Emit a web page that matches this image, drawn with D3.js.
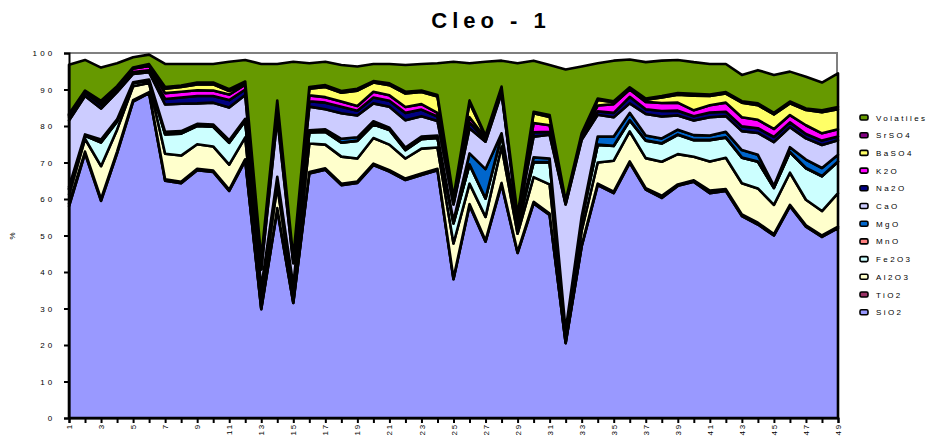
<!DOCTYPE html>
<html>
<head>
<meta charset="utf-8">
<script src="https://cdn.jsdelivr.net/npm/d3@7"></script>
<style>
  body { margin: 0; background: #fff; }
  svg { display: block; }
  text { font-family: "Liberation Sans", Arial, sans-serif; fill: #000; }
</style>
</head>
<body>
<svg id="chart" width="929" height="436"></svg>
<script>
// Sample numbers along the well section
const samples = [1,2,3,4,5,6,7,8,9,10,11,12,13,14,15,16,17,18,19,20,21,22,23,24,25,
                 26,27,28,29,30,31,32,33,34,35,36,37,38,39,40,41,42,43,44,45,46,47,48,49];

// Composition of each sample, weight %
const sio2 = [58,72.5,59.5,72.5,86.7,89,65,64.3,67.9,67.4,62.2,70.5,29.8,57,31.5,67,68,63.8,64.4,69.3,67.5,65.2,66.6,67.9,38,
              58.2,48.3,64,45.2,58.8,55.6,20.5,47,63.8,61.6,69.9,62.6,60.3,63.6,64.7,61.6,62.2,55.3,53,50,58,52.4,49.6,52];
const tio2 = [0.7,0.5,0.5,0.5,0.4,0.3,0.4,0.4,0.4,0.4,0.4,0.4,0.3,0.5,0.3,0.4,0.4,0.4,0.4,0.4,0.4,0.4,0.4,0.4,0.3,
              0.4,0.3,0.4,0.3,0.4,0.4,0.2,0.3,0.4,0.4,0.4,0.4,0.6,0.4,0.4,0.7,0.5,0.5,0.5,0.4,0.4,0.4,0.4,0.4];
const al2o3 = [2.5,3.5,9,6,3.8,2.5,7,7.2,6.7,6.6,6.8,6,3,6,2.5,7.8,6.5,7.4,6.3,7,7,5.5,6.8,5.8,9.5,
               5.6,6.5,10,5,6.8,8,2,4,5.8,8.5,8.2,8.2,9.3,8.3,6.5,8,8.6,8.5,9.4,8,8.8,7,6.7,9.2];
const fe2o3 = [1.5,0.8,6.5,2.2,0.8,0.7,5.3,6,5,5.4,6,4.5,2,2,1.5,3,3.5,3.8,4.8,3.7,4,2.3,2.6,2.6,5.5,
               5.2,5,3,2,4,6,1,3,4.8,4,3,4.8,5,5.3,4.5,5.8,5.5,7,7.3,4.6,5.6,8.6,9.5,8.6];
const mno = [0.1,0.1,0.1,0.1,0.05,0.05,0.1,0.1,0.1,0.1,0.1,0.1,0.1,0.1,0.1,0.1,0.1,0.1,0.1,0.1,0.1,0.1,0.1,0.1,0.1,
             0.1,0.1,0.1,0.1,0.1,0.1,0,0.1,0.1,0.1,0.1,0.1,0.1,0.1,0.1,0.1,0.1,0.1,0.1,0.1,0.1,0.1,0.1,0.1];
const mgo = [0.5,0.3,0.7,0.5,0.2,0.2,0.6,0.6,0.5,0.5,0.6,0.5,0.5,0.5,0.5,0.5,0.6,1,0.9,0.8,0.5,0.6,0.6,0.6,0.6,
             3,8,0.5,0.5,1.3,1,0.3,0.8,2.2,2.5,2,1.3,1.3,1.3,1.3,1.2,1.5,2,1.8,0.5,1.3,2.3,2.2,1.8];
const cao = [18.2,10.5,8.5,7.5,2.3,2,7.5,7.5,5.6,6,9,6.5,5,16,6,6.5,5.5,7,6,4.9,5.8,7.5,5.6,4,4.5,
             6.9,7.5,11,1.5,5.7,6.5,34.5,21,6,5.3,2.6,5.9,6,3.9,4,5,4.3,5.2,6,12,5.5,5.8,6.3,4];
const na2o = [1,1,1,0.8,0.5,0.5,1.5,1.7,2,1.8,2,1.5,1.5,1.5,0.8,1.5,1.8,1.8,1.3,1.6,1.6,2,1.8,1.2,0.5,
              1.6,0.6,0.5,0.3,1.2,0.8,0.3,0.8,0.9,1.2,1.8,1.3,1.5,1.3,1.2,1.3,1.2,1.3,1.3,1.4,1.3,1.2,1.2,1];
const k2o = [0.5,0.3,0.5,0.5,1,1.2,1.6,1.6,1.6,1.5,1.5,1.3,1,1.5,0.5,1.6,1.5,1.4,1.3,1.6,1.5,1.6,1.5,1,0.4,
             1.4,0.4,0.5,0.3,2.5,1.8,0.3,0.4,1.6,2.4,2,2,2.2,2.2,1.6,2,2.5,2.5,2.3,2.2,2,2.4,2,2];
const baso4 = [0,0,0,0,0,0,1.2,1.3,1.6,1.7,1,0.3,0,1.4,0,1.8,2.8,2.4,4.2,2.5,2.8,3.7,3.3,4.5,0.8,
               4,0.4,0.5,0.2,2.7,2.3,0.2,0.3,1.5,0.5,0.2,0.6,1.5,2.2,4,2.5,2.5,4,4,4,3.2,4.2,5.8,5.5];
const srso4 = [0.3,0.2,0.6,0.3,0.3,0.5,0.5,0.4,0.5,0.5,0.5,0.6,0.5,0.5,0.2,0.5,0.5,0.5,0.5,0.4,0.5,0.5,0.4,0.4,0.2,
               0.6,0.3,0.3,0.2,0.4,0.5,0.2,0.3,0.4,0.3,0.4,0.3,0.4,0.4,0.5,0.4,0.4,0.4,0.5,0.4,0.5,0.4,0.5,0.6];
const volatiles = [13.5,8.4,9.1,6.3,2.8,2.6,6.3,5.9,5.1,5.1,7.5,5.9,53.3,10,53.7,6.5,6.4,7.1,6.1,4.7,5.3,7.3,7.3,8.7,37.2,
                   10.2,20.2,7.1,41.6,14,13.7,36,18.3,9.7,11.1,7.6,10,9.7,9.1,8.7,8.4,7.7,7.2,9.1,10.4,8.2,8.7,7.6,9.2];

const seriesNames = ["SiO2","TiO2","Al2O3","Fe2O3","MnO","MgO","CaO","Na2O","K2O","BaSO4","SrSO4","Volatiles"];
const seriesColors = ["#9999FF","#993366","#FFFFCC","#CCFFFF","#FF8080","#0066CC",
                      "#CCCCFF","#000080","#FF00FF","#FFFF66","#800080","#669900"];
const yTicks = [0,10,20,30,40,50,60,70,80,90,100];

const columns = [sio2, tio2, al2o3, fe2o3, mno, mgo, cao, na2o, k2o, baso4, srso4, volatiles];
const rows = samples.map((s, i) => {
  const r = { sample: s };
  seriesNames.forEach((name, k) => { r[name] = columns[k][i]; });
  return r;
});

const svg = d3.select("#chart");
const plotLeft = 69, plotRight = 838, plotTop = 53, plotBottom = 418;

const x = d3.scalePoint().domain(samples).range([plotLeft, plotRight]);
const y = d3.scaleLinear().domain([0, 100]).range([plotBottom, plotTop]);

// Plot frame (grey top and right edges)
svg.append("path")
  .attr("d", `M${plotLeft},${plotTop}H${plotRight - 1}V${plotBottom}`)
  .attr("fill", "none").attr("stroke", "#808080").attr("stroke-width", 2);

const stacked = d3.stack().keys(seriesNames)(rows);
const area = d3.area()
  .x(d => x(d.data.sample))
  .y0(d => y(d[0]))
  .y1(d => y(d[1]));

svg.append("g").selectAll("path")
  .data(stacked)
  .join("path")
  .attr("d", area)
  .attr("fill", (d, i) => seriesColors[i])
  .attr("stroke", "#000")
  .attr("stroke-width", 2.6)
  .attr("stroke-linejoin", "round");

// Value axis
const yAxis = svg.append("g").attr("transform", `translate(${plotLeft},0)`)
  .call(d3.axisLeft(y).tickValues(yTicks).tickSize(5).tickPadding(8.5).tickFormat(d3.format("d")));
yAxis.select(".domain").attr("stroke", "#000").attr("stroke-width", 2);
yAxis.selectAll(".tick line").attr("stroke", "#000").attr("stroke-width", 2);
yAxis.selectAll(".tick text")
  .attr("font-size", 8).attr("letter-spacing", "3.2px")
  .attr("font-family", "'Liberation Sans', Arial, sans-serif");

svg.append("text")
  .attr("transform", "translate(15,236) rotate(-90)")
  .attr("text-anchor", "middle")
  .attr("font-size", 8)
  .text("%");

// Category axis: labels run upward from below the axis
const xAxis = svg.append("g").attr("transform", `translate(0,${plotBottom})`)
  .call(d3.axisBottom(x).tickSize(5).tickFormat(d => (d % 2 === 1 ? d : "")));
xAxis.select(".domain").attr("stroke", "#000").attr("stroke-width", 2);
xAxis.selectAll(".tick line").attr("stroke", "#000").attr("stroke-width", 2);
xAxis.selectAll(".tick text")
  .attr("font-size", 8).attr("letter-spacing", "1.8px")
  .attr("font-family", "'Liberation Sans', Arial, sans-serif")
  .attr("text-anchor", "end")
  .attr("dy", "0.32em")
  .attr("transform", "translate(0,5) rotate(-90)")
  .attr("x", 0).attr("y", 0);

// Title
svg.append("text")
  .attr("x", 491).attr("y", 28)
  .attr("text-anchor", "middle")
  .attr("font-size", 22).attr("font-weight", "bold")
  .attr("letter-spacing", "5px")
  .text("Cleo - 1");

// Legend, top entry is the uppermost layer
const legend = svg.append("g").attr("transform", "translate(860,117.5)");
const legendItems = seriesNames.map((n, i) => ({ name: n, color: seriesColors[i] })).reverse();
const li = legend.selectAll("g").data(legendItems).join("g")
  .attr("transform", (d, i) => `translate(0,${i * 17.7})`);
li.append("rect")
  .attr("x", 0).attr("y", -2.5).attr("width", 8).attr("height", 5).attr("rx", 1.5)
  .attr("fill", d => d.color).attr("stroke", "#000").attr("stroke-width", 1.6);
li.append("text")
  .attr("x", 16).attr("y", 3)
  .attr("font-size", 8).attr("letter-spacing", "2.4px")
  .text(d => d.name);
</script>
</body>
</html>
